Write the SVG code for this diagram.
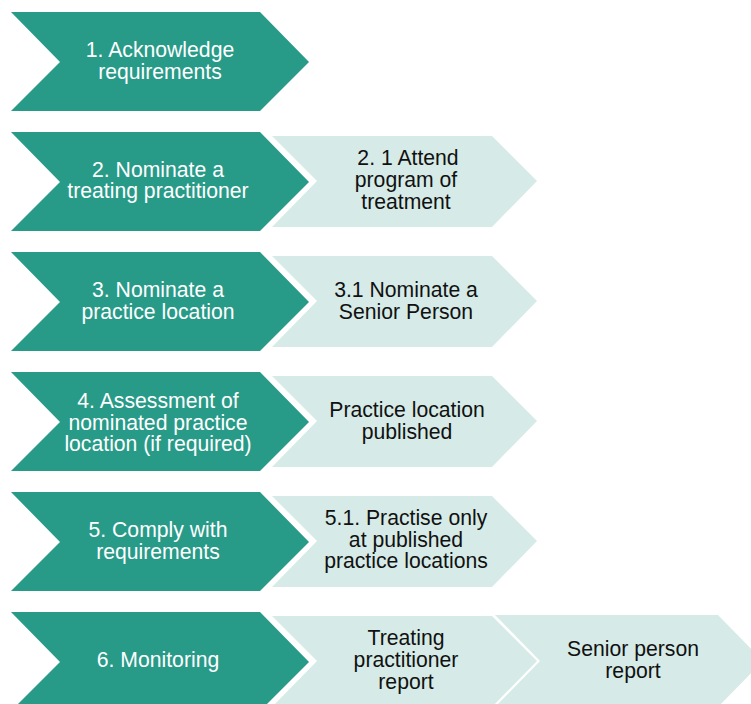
<svg xmlns="http://www.w3.org/2000/svg" width="751" height="704" viewBox="0 0 751 704">
<style>
.dark{fill:#289A88}
.light{fill:#D6EBE7}
text{font-family:"Liberation Sans",Arial,sans-serif;font-size:21.2px;text-anchor:middle}
.wt{fill:#FFFFFF}
.bt{fill:#111111}
</style>
<rect width="751" height="704" fill="#FFFFFF"/>
<g id="step1">
<polygon class="dark" points="11,12 260,12 309,62 260,111 11,111 60,62"/>
<text class="wt" x="160" y="57">1. Acknowledge</text>
<text class="wt" x="160" y="79">requirements</text>
</g>
<g id="step2">
<polygon class="dark" points="11,132 260,132 309,182 260,231 11,231 60,182"/>
<text class="wt" x="158" y="177">2. Nominate a</text>
<text class="wt" x="158" y="198">treating practitioner</text>
</g>
<g id="step2-1">
<polygon class="light" points="272,136 492,136 537,181 492,227 272,227 317,181"/>
<text class="bt" x="408" y="165">2. 1 Attend</text>
<text class="bt" x="406" y="187">program of</text>
<text class="bt" x="406" y="209">treatment</text>
</g>
<g id="step3">
<polygon class="dark" points="11,252 260,252 309,302 260,351 11,351 60,302"/>
<text class="wt" x="158" y="297">3. Nominate a</text>
<text class="wt" x="158" y="319">practice location</text>
</g>
<g id="step3-1">
<polygon class="light" points="272,256 492,256 537,301 492,347 272,347 317,301"/>
<text class="bt" x="406" y="297">3.1 Nominate a</text>
<text class="bt" x="406" y="319">Senior Person</text>
</g>
<g id="step4">
<polygon class="dark" points="11,372 260,372 309,422 260,471 11,471 60,422"/>
<text class="wt" x="158" y="408">4. Assessment of</text>
<text class="wt" x="158" y="430">nominated practice</text>
<text class="wt" x="158" y="451">location (if required)</text>
</g>
<g id="step4-1">
<polygon class="light" points="272,376 492,376 537,421 492,467 272,467 317,421"/>
<text class="bt" x="407" y="417">Practice location</text>
<text class="bt" x="407" y="439">published</text>
</g>
<g id="step5">
<polygon class="dark" points="11,492 260,492 309,542 260,591 11,591 60,542"/>
<text class="wt" x="158" y="537">5. Comply with</text>
<text class="wt" x="158" y="559">requirements</text>
</g>
<g id="step5-1">
<polygon class="light" points="272,496 492,496 537,541 492,587 272,587 317,541"/>
<text class="bt" x="406" y="525">5.1. Practise only</text>
<text class="bt" x="406" y="547">at published</text>
<text class="bt" x="406" y="568">practice locations</text>
</g>
<g id="step6">
<polygon class="dark" points="11,612 260,612 309,662 260,711 11,711 60,662"/>
<text class="wt" x="158" y="667">6. Monitoring</text>
</g>
<g id="step6-1">
<polygon class="light" points="272,616 492,616 537,661 492,707 272,707 317,661"/>
<text class="bt" x="406" y="645">Treating</text>
<text class="bt" x="406" y="667">practitioner</text>
<text class="bt" x="406" y="689">report</text>
</g>
<g id="step6-2">
<polygon class="light" points="495,615 718,615 763,661 718,707 495,707 540,661"/>
<text class="bt" x="633" y="656">Senior person</text>
<text class="bt" x="633" y="678">report</text>
</g>
</svg>
